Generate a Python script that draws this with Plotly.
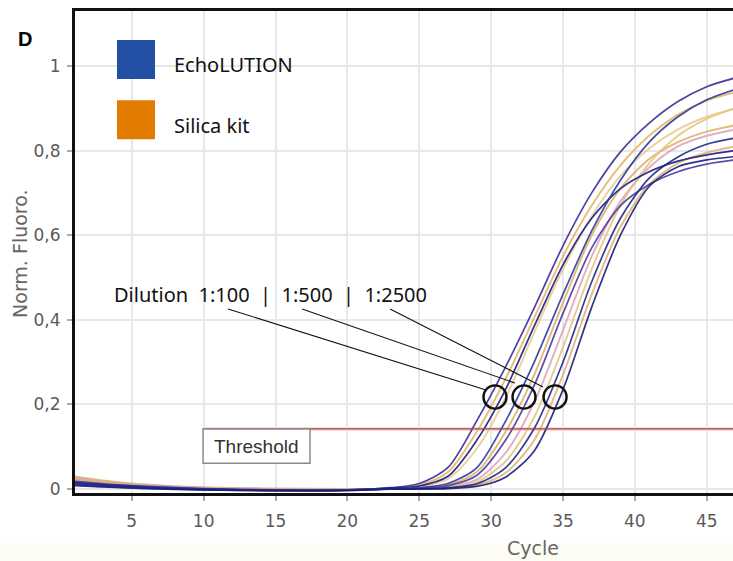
import plotly.graph_objects as go

# ---------------- data ----------------
CYCLES = [1, 3, 6, 10, 15, 20, 23, 25, 27, 29, 31, 33, 35, 37, 39, 41, 43, 45, 47]

# EchoLUTION curves (Norm. Fluoro.)
ECHO_100_A = [0.012, 0.008, 0.004, 0.000, -0.003, -0.003, 0.003, 0.013, 0.051, 0.161, 0.288, 0.428, 0.575, 0.700, 0.797, 0.865, 0.916, 0.951, 0.972]
ECHO_100_B = [0.015, 0.010, 0.005, 0.000, -0.004, -0.002, 0.002, 0.007, 0.030, 0.115, 0.235, 0.385, 0.530, 0.640, 0.710, 0.750, 0.775, 0.790, 0.800]
ECHO_500_A = [0.018, 0.012, 0.006, 0.001, -0.002, -0.002, 0.000, 0.003, 0.013, 0.050, 0.160, 0.300, 0.460, 0.610, 0.730, 0.820, 0.880, 0.920, 0.945]
ECHO_500_B = [0.010, 0.006, 0.002, -0.002, -0.004, -0.003, 0.000, 0.002, 0.008, 0.032, 0.115, 0.245, 0.415, 0.570, 0.670, 0.720, 0.750, 0.768, 0.778]
ECHO_2500_A = [0.014, 0.010, 0.004, -0.001, -0.003, -0.003, 0.000, 0.000, 0.003, 0.012, 0.050, 0.143, 0.300, 0.490, 0.640, 0.735, 0.785, 0.815, 0.830]
ECHO_2500_B = [0.008, 0.005, 0.001, -0.002, -0.004, -0.004, 0.000, 0.000, 0.001, 0.006, 0.028, 0.090, 0.235, 0.430, 0.600, 0.715, 0.762, 0.778, 0.786]

# Silica kit curves
SILICA_100_A = [0.030, 0.020, 0.010, 0.003, 0.000, -0.001, 0.002, 0.009, 0.040, 0.135, 0.260, 0.405, 0.550, 0.670, 0.765, 0.835, 0.885, 0.918, 0.938]
SILICA_100_B = [0.025, 0.015, 0.008, 0.002, -0.001, -0.002, 0.001, 0.006, 0.024, 0.095, 0.215, 0.370, 0.520, 0.645, 0.740, 0.805, 0.850, 0.880, 0.900]
SILICA_500_A = [0.022, 0.014, 0.006, 0.001, -0.002, -0.003, 0.000, 0.002, 0.010, 0.040, 0.135, 0.270, 0.440, 0.600, 0.710, 0.780, 0.820, 0.845, 0.860]
SILICA_500_B = [0.028, 0.018, 0.010, 0.004, 0.001, 0.000, 0.000, 0.001, 0.005, 0.022, 0.085, 0.205, 0.375, 0.550, 0.680, 0.760, 0.810, 0.835, 0.850]
SILICA_2500_A = [0.020, 0.012, 0.006, 0.002, 0.000, -0.001, 0.000, 0.001, 0.004, 0.016, 0.065, 0.170, 0.335, 0.520, 0.670, 0.770, 0.835, 0.875, 0.900]
SILICA_2500_B = [0.024, 0.016, 0.008, 0.002, 0.000, -0.001, 0.000, 0.000, 0.002, 0.009, 0.038, 0.115, 0.270, 0.460, 0.620, 0.720, 0.770, 0.795, 0.810]

THRESHOLD = 0.142
X_TICKS = [5, 10, 15, 20, 25, 30, 35, 40, 45]
Y_TICKS = [0, 0.2, 0.4, 0.6, 0.8, 1]
Y_TICK_LABELS = ["0", "0,2", "0,4", "0,6", "0,8", "1"]
LEGEND_NAMES = ["EchoLUTION", "Silica kit"]
DILUTIONS = ["1:100", "1:500", "1:2500"]
# circled Ct positions (cycle, fluorescence)
CIRCLE_X = [30.27, 32.29, 34.45]
CIRCLE_Y = 0.2175

# ---------------- figure ----------------
fig = go.Figure()

silica = [SILICA_100_A, SILICA_100_B, SILICA_500_A, SILICA_500_B, SILICA_2500_A, SILICA_2500_B]
silica_colors = ["#e2b45e", "#e9c98e", "#dcae66", "#d9a3b9", "#e6c27a", "#e0b070"]
echo = [ECHO_100_A, ECHO_100_B, ECHO_500_A, ECHO_500_B, ECHO_2500_A, ECHO_2500_B]
echo_colors = ["#3a2f96", "#1c1c82", "#2c3aa0", "#4a3aa0", "#1e2a8c", "#1a1f7a"]

for ys, c in zip(silica, silica_colors):
    fig.add_trace(go.Scatter(
        x=CYCLES, y=ys, mode="lines",
        line=dict(color=c, width=1.9, shape="spline", smoothing=0.8),
        opacity=0.85, showlegend=False, hoverinfo="skip"))
for ys, c in zip(echo, echo_colors):
    fig.add_trace(go.Scatter(
        x=CYCLES, y=ys, mode="lines",
        line=dict(color=c, width=1.7, shape="spline", smoothing=0.8),
        opacity=0.9, showlegend=False, hoverinfo="skip"))

XR = [1.05, 46.83]
YR = [-0.0095, 1.13]

fig.update_layout(
    width=733, height=561,
    margin=dict(l=75, r=0, t=11, b=68),
    paper_bgcolor="white", plot_bgcolor="white",
    font=dict(family="DejaVu Sans, Verdana, sans-serif", color="#666"),
    xaxis=dict(range=XR, tickvals=X_TICKS, showgrid=True, gridcolor="#e8e8e8", gridwidth=2,
               zeroline=False, showline=True, linecolor="#111", linewidth=3, mirror=True,
               ticks="outside", ticklen=5, tickcolor="#aaa", tickwidth=2,
               tickfont=dict(size=17, color="#5a5a5a"), ticklabelstandoff=6),
    yaxis=dict(range=YR, tickvals=Y_TICKS, ticktext=Y_TICK_LABELS, showgrid=True,
               gridcolor="#e8e8e8", gridwidth=2, zeroline=False, showline=True,
               linecolor="#111", linewidth=3, mirror=False,
               ticks="outside", ticklen=5, tickcolor="#aaa", tickwidth=2,
               tickfont=dict(size=17, color="#5a5a5a"), ticklabelstandoff=3),
)

shapes = []
# faint cream band at the bottom
shapes.append(dict(type="rect", xref="paper", yref="paper", x0=-0.2, x1=1.05, y0=-0.16, y1=-0.105,
                   fillcolor="#fdfdf4", line=dict(width=0), layer="below"))
# threshold line
shapes.append(dict(type="line", xref="x", yref="y", x0=9.96, x1=XR[1], y0=THRESHOLD, y1=THRESHOLD,
                   line=dict(color="#f6d2d2", width=3.5), layer="below"))
shapes.append(dict(type="line", xref="x", yref="y", x0=9.96, x1=XR[1], y0=THRESHOLD, y1=THRESHOLD,
                   line=dict(color="#a84444", width=1.2)))
# threshold label box
shapes.append(dict(type="rect", xref="x", yref="y", x0=9.96, x1=17.4, y0=0.061, y1=THRESHOLD,
                   fillcolor="white", line=dict(color="#8a8a8a", width=1.5)))
# circles
for cx in CIRCLE_X:
    shapes.append(dict(type="circle", xref="x", yref="y", x0=cx - 0.8, x1=cx + 0.8,
                       y0=CIRCLE_Y - 0.0275, y1=CIRCLE_Y + 0.0275,
                       line=dict(color="#111", width=2.4)))
# connector lines
LINE_STARTS = [(11.70, 0.4255), (16.85, 0.4255), (22.97, 0.4255)]
LINE_ENDS = [(29.65, 0.234), (31.66, 0.2506), (33.61, 0.241)]
for (x0, y0), (x1, y1) in zip(LINE_STARTS, LINE_ENDS):
    shapes.append(dict(type="line", xref="x", yref="y", x0=x0, y0=y0, x1=x1, y1=y1,
                       line=dict(color="#111", width=1.1)))
# legend squares
shapes.append(dict(type="rect", xref="paper", yref="paper", x0=0.0638, x1=0.1216, y0=0.859, y1=0.940,
                   fillcolor="#2350a5", line=dict(width=0)))
shapes.append(dict(type="rect", xref="paper", yref="paper", x0=0.0638, x1=0.1216, y0=0.734, y1=0.815,
                   fillcolor="#e27c00", line=dict(width=0)))
fig.update_layout(shapes=shapes)

ann = []
ann.append(dict(text="<b>D</b>", xref="paper", yref="paper", x=-0.076, y=0.942, showarrow=False,
                xanchor="center", yanchor="middle",
                font=dict(size=20, color="#000", family="Liberation Sans, Arial")))
ann.append(dict(text=LEGEND_NAMES[0], xref="paper", yref="paper", x=0.1474, y=0.888, xanchor="left",
                yanchor="middle", showarrow=False, font=dict(size=20, color="#111", family="Noto Sans")))
ann.append(dict(text=LEGEND_NAMES[1], xref="paper", yref="paper", x=0.1474, y=0.763, xanchor="left",
                yanchor="middle", showarrow=False, font=dict(size=20, color="#111", family="Noto Sans")))
ann.append(dict(text="Dilution  " + "  |  ".join(DILUTIONS), xref="x", yref="y", x=14.62, y=0.459,
                xanchor="center", yanchor="middle",
                showarrow=False, font=dict(size=20, color="#111", family="Noto Sans")))
ann.append(dict(text="Threshold", xref="x", yref="y", x=13.68, y=0.1015, showarrow=False,
                xanchor="center", yanchor="middle",
                font=dict(size=19, color="#333", family="Liberation Sans, Arial")))
ann.append(dict(text="Norm. Fluoro.", xref="paper", yref="paper", x=-0.0836, y=0.498, textangle=-90,
                xanchor="center", yanchor="middle",
                showarrow=False, font=dict(size=19, color="#666", family="DejaVu Sans, Verdana")))
ann.append(dict(text="Cycle", xref="paper", yref="paper", x=0.696, y=-0.114, showarrow=False,
                xanchor="center", yanchor="middle",
                font=dict(size=19, color="#666", family="DejaVu Sans, Verdana")))
fig.update_layout(annotations=ann)

fig.write_html("out.html", config={"displayModeBar": False},
               post_script="document.body.style.margin='0';document.body.style.overflow='hidden';")
